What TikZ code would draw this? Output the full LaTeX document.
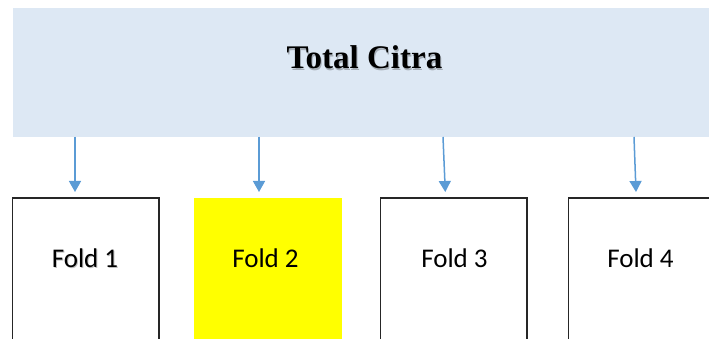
\documentclass[tikz,border=0pt]{standalone}
\usepackage{fontspec}
\setmainfont{Liberation Serif}
\newfontfamily\labelfont{Carlito}
\usetikzlibrary{arrows.meta}
\definecolor{headfill}{HTML}{DDE8F4}
\definecolor{arrowblue}{HTML}{5B9BD5}
\definecolor{foldyellow}{HTML}{FFFF00}
\definecolor{boxline}{HTML}{262626}
\tikzset{
  foldbox/.style={draw=boxline, line width=1.4pt, fill=white},
  hilitebox/.style={fill=foldyellow},
  foldlabel/.style={font=\labelfont\fontsize{27}{27}\selectfont, anchor=base, inner sep=0pt},
  titlelabel/.style={font=\bfseries\fontsize{33}{33}\selectfont, anchor=base, inner sep=0pt},
  shade/.style={text=black, opacity=0.25},
  splitarrow/.style={draw=arrowblue, line width=1.5pt, -{Triangle[width=12pt,length=11pt]}}
}
\begin{document}
\begin{tikzpicture}[x=1pt, y=-1pt]
  \useasboundingbox (0,0) rectangle (709,339);
  \clip (0,0) rectangle (709,339);
  % header block
  \path[fill=headfill] (13,8.5) rectangle (720,137);
  \coordinate (top) at (364.5,69);
  \node[titlelabel, shade] at (365.5,70.5) {Total Citra};
  \node[titlelabel] (title) at (top) {Total Citra};
  % the four folds
  \path[foldbox] (12.5,198) rectangle (159,350);
  \path[hilitebox] (194,198) rectangle (342,350);
  \path[foldbox] (380.5,198) rectangle (527,350);
  \path[foldbox] (568.5,198) rectangle (720,350);
  \node[foldlabel, shade] at (86,268.5) {Fold 1};
  \node[foldlabel] (f1) at (85,267) {Fold 1};
  \node[foldlabel] (f2) at (265.5,267) {Fold 2};
  \node[foldlabel] (f3) at (454.5,267) {Fold 3};
  \node[foldlabel] (f4) at (640.5,267) {Fold 4};
  % arrow ends
  \coordinate (s1) at (75,137);    \coordinate (e1) at (75,192);
  \coordinate (s2) at (259,137);   \coordinate (e2) at (259,192);
  \coordinate (s3) at (443,137);   \coordinate (e3) at (445.3,192);
  \coordinate (s4) at (634,137);   \coordinate (e4) at (636,192);
  \draw[splitarrow] (s1) -- (e1);
  \draw[splitarrow] (s2) -- (e2);
  \draw[splitarrow] (s3) -- (e3);
  \draw[splitarrow] (s4) -- (e4);
\end{tikzpicture}
\end{document}
